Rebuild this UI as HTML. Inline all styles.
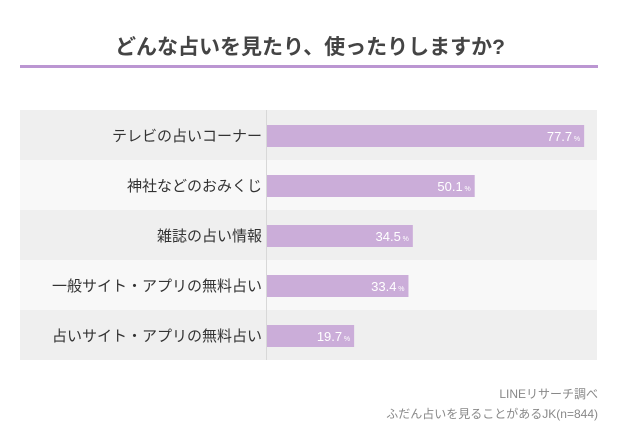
<!DOCTYPE html>
<html><head><meta charset="utf-8"><style>
body{margin:0;width:620px;height:441px;background:#fff;font-family:"Liberation Sans","Noto Sans CJK JP",sans-serif;position:relative;overflow:hidden}
#title{position:absolute;left:0;width:620px;top:31px;text-align:center;font-size:21px;font-weight:bold;color:#444}
#rule{position:absolute;left:20px;top:65px;width:578px;height:3px;background:#bb96d2}
.src{position:absolute;right:22px;font-size:12px;color:#888;text-align:right}
</style></head><body>
<div id="title">どんな占いを見たり、使ったりしますか?</div>
<div id="rule"></div>
<svg id="chart" width="620" height="441" style="position:absolute;left:0;top:0"></svg>
<div class="src" style="top:385px">LINEリサーチ調べ</div>
<div class="src" style="top:405px">ふだん占いを見ることがあるJK(n=844)</div>
<script>
const categories=["テレビの占いコーナー","神社などのおみくじ","雑誌の占い情報","一般サイト・アプリの無料占い","占いサイト・アプリの無料占い"];
const values=[77.7,50.1,34.5,33.4,19.7];
const svg=document.getElementById('chart');
const NS='http://www.w3.org/2000/svg';
const barStart=267,zeroX=276,scale=3.966,top0=110,rowH=50;
function xs(v){return zeroX+v*scale;}
function mk(t,a){const e=document.createElementNS(NS,t);for(const k in a)e.setAttribute(k,a[k]);svg.appendChild(e);return e;}
categories.forEach((c,i)=>{
const y=top0+i*rowH;
const r=mk('rect',{x:20,y:y,width:577,height:rowH,fill:i%2?'#f8f8f8':'#efefef'});


const l=mk('text',{x:262,y:y+31,'text-anchor':'end','font-size':15,fill:'#333'});
l.textContent=c;


const b=mk('rect',{x:barStart,y:y+15,width:xs(values[i])-barStart,height:22,fill:'#cbadd9'});


const t=mk('text',{x:xs(values[i])-12,y:y+31,'text-anchor':'end','font-size':13,fill:'#fff'});
t.textContent=values[i].toFixed(1);


const p=mk('text',{x:xs(values[i])-4,y:y+31,'text-anchor':'end','font-size':7,fill:'#fff'});
p.textContent='%';


});
const ax=mk('line',{x1:266.5,x2:266.5,y1:top0,y2:top0+rowH*categories.length,stroke:'#d8d8d8','stroke-width':1});


</script>
</body></html>
